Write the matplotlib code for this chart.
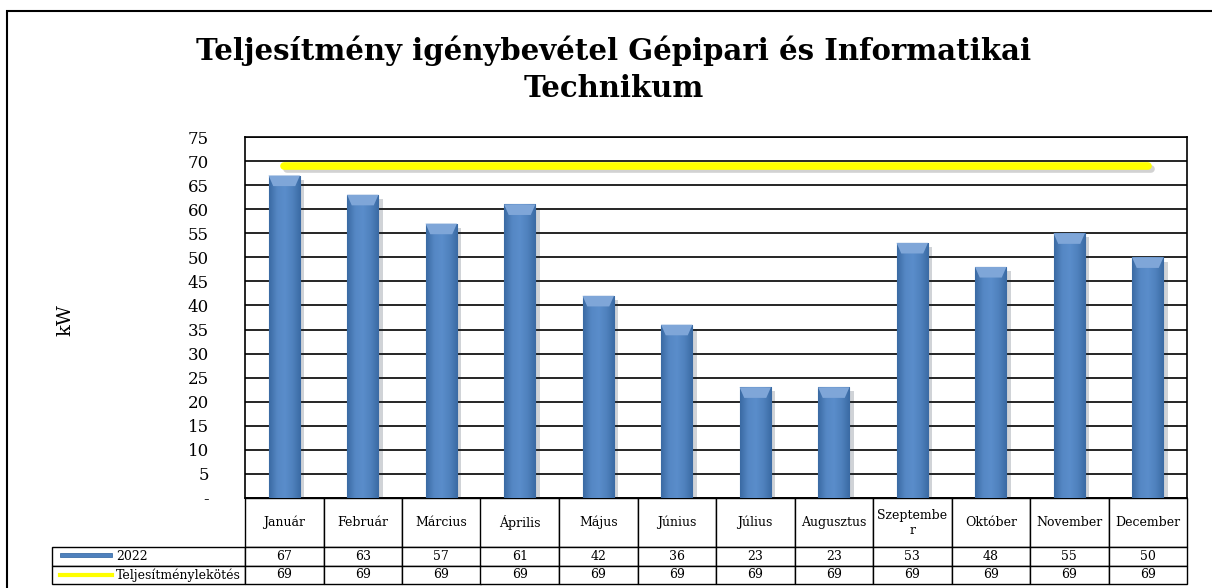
import numpy as np
import matplotlib
matplotlib.use('Agg')
import matplotlib.pyplot as plt
import matplotlib.patheffects as pe
from matplotlib.colors import LinearSegmentedColormap
from matplotlib.patches import Rectangle, Polygon
from matplotlib.lines import Line2D

# data
months = ['Január', 'Február', 'Március', 'Április', 'Május', 'Június',
          'Július', 'Augusztus', 'Szeptembe\nr', 'Október', 'November', 'December']
usage_2022 = [67, 63, 57, 61, 42, 36, 23, 23, 53, 48, 55, 50]
contracted = [69, 69, 69, 69, 69, 69, 69, 69, 69, 69, 69, 69]
series_names = ['2022', 'Teljesítménylekötés']
y_ticks = list(range(0, 80, 5))
y_tick_labels = ['-'] + [str(v) for v in y_ticks[1:]]

title = 'Teljesítmény igénybevétel Gépipari és Informatikai\nTechnikum'

plt.rcParams['font.family'] = ['DejaVu Serif']

W, H = 1212, 588
fig = plt.figure(figsize=(W / 100, H / 100), dpi=100)

# outer chart border (runs off the right/bottom edge like the screenshot)
fig.patches.append(Rectangle((7 / W, -0.02), 1.0, (H - 11) / H + 0.02,
                             transform=fig.transFigure, fill=False,
                             ec='black', lw=1.5))

ax_w, ax_h = 942, 361
ax = fig.add_axes([245 / W, 1 - 498 / H, ax_w / W, ax_h / H])
x = np.arange(len(months))

bars = ax.bar(x, usage_2022, width=0.4, color='#4F81BD', edgecolor='#4374B0',
              lw=0.8, zorder=3)

# bevel-like shading on each bar
cmap = LinearSegmentedColormap.from_list(
    'bevel', ['#3A6AA3', '#5587C4', '#5A8DCB', '#4F81BD', '#3A6AA3'])
grad = np.linspace(0, 1, 64).reshape(1, -1)
for b in bars:
    b.set_path_effects([pe.SimplePatchShadow(offset=(3, -3), alpha=0.2), pe.Normal()])
    x0, w, h = b.get_x(), b.get_width(), b.get_height()
    im = ax.imshow(grad, cmap=cmap, extent=[x0, x0 + w, 0, h],
                   aspect='auto', zorder=3.1, interpolation='bicubic')
    im.set_clip_path(b)
    d = 2.2
    ax.add_patch(Polygon([(x0, h), (x0 + w, h), (x0 + w * 0.85, h - d),
                          (x0 + w * 0.15, h - d)],
                         closed=True, fc='#7FA6D8', ec='none', zorder=3.2))

ax.plot(x, contracted, color='#FFFF00', lw=5.5, solid_capstyle='round', zorder=4,
        path_effects=[pe.SimpleLineShadow(offset=(2, -2), shadow_color='gray', alpha=0.35),
                      pe.Normal()])

ax.set_xlim(-0.5, len(months) - 0.5)
ax.set_ylim(0, 75)
ax.set_yticks(y_ticks)
ax.set_yticklabels(y_tick_labels, fontsize=12)
ax.set_xticks([])
ax.tick_params(axis='y', length=0, pad=26)
ax.yaxis.grid(True, color='black', lw=1.2)
ax.set_axisbelow(True)
for s in ax.spines.values():
    s.set_color('black')
    s.set_linewidth(1.2)

fig.text(65 / W, 1 - 320 / H, 'kW', rotation=90, ha='center', va='center', fontsize=14)
fig.text(614 / W, 1 - 69 / H, title, ha='center', va='center', fontsize=21,
         fontweight='bold', linespacing=1.35)

# data table under the plot; cell sizes are in axes fractions
label_w = 193 / ax_w
head_h, row_h = 49 / ax_h, 18.5 / ax_h
cell_text = [[str(v) for v in usage_2022], [str(v) for v in contracted]]
tbl = ax.table(cellText=cell_text, colLabels=months, cellLoc='center', loc='bottom')
for i, name in enumerate(series_names):
    tbl.add_cell(i + 1, -1, width=label_w, height=row_h, text=name, loc='left')
tbl.auto_set_font_size(False)
tbl.set_fontsize(9)
for (r, c), cell in tbl.get_celld().items():
    cell.set_edgecolor('black')
    cell.set_linewidth(1.0)
    cell.set_height(head_h if r == 0 else row_h)
    cell.set_width(label_w if c == -1 else 1 / len(months))
    if c == -1:
        cell.PAD = 0.33

# legend keys inside the row-label cells
ax.add_patch(Rectangle(((60 - 245) / ax_w, (498 - 557) / ax_h), 52 / ax_w, 4.5 / ax_h,
                       transform=ax.transAxes, clip_on=False,
                       fc='#4F81BD', ec='#3F6FA8', lw=0.6))
ax.add_line(Line2D([(60 - 245) / ax_w, (112 - 245) / ax_w],
                   [(498 - 575) / ax_h] * 2, transform=ax.transAxes, clip_on=False,
                   color='#FFFF00', lw=3))

fig.savefig('out.png', dpi=100)
